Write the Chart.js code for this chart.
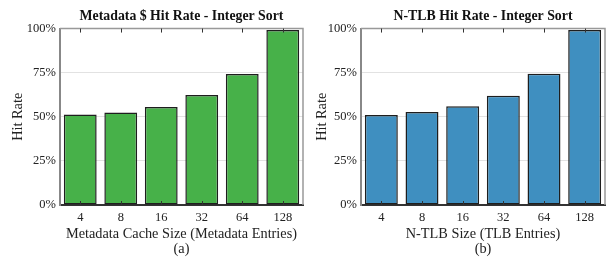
<!DOCTYPE html>
<html>
<head>
<meta charset="utf-8">
<script src="https://cdn.jsdelivr.net/npm/chart.js@4"></script>
<style>
  html, body { margin: 0; padding: 0; background: #fff; }
  #wrap { width: 608px; height: 259px; display: flex; }
  canvas { display: block; }
</style>
</head>
<body>
<div id="wrap">
  <canvas id="chartA" width="304" height="259"></canvas>
  <canvas id="chartB" width="304" height="259"></canvas>
</div>
<script>
// ---- Datos ----
const categories = ['4', '8', '16', '32', '64', '128'];
const metadataHitRate = [51.3, 52.4, 55.6, 62.3, 74.3, 99.2];
const ntlbHitRate = [51.0, 52.7, 56.0, 61.9, 74.4, 99.2];
const yTicks = [0, 25, 50, 75, 100];

const SERIF = '"Liberation Serif", "Times New Roman", serif';

// marco + ticks hacia dentro
const framePlugin = {
  id: 'frame',
  afterDatasetsDraw(chart) {
    const { ctx, chartArea: a, scales: { x } } = chart;
    ctx.save();
    ctx.strokeStyle = '#999';
    ctx.lineWidth = 1.5;
    ctx.beginPath();
    ctx.moveTo(a.left, a.top); ctx.lineTo(a.right, a.top);
    ctx.lineTo(a.right, a.bottom);
    ctx.stroke();
    ctx.strokeStyle = '#333';
    ctx.lineWidth = 1;
    categories.forEach((c, i) => {
      const px = Math.round(x.getPixelForTick(i)) + 0.5;
      ctx.beginPath();
      ctx.moveTo(px, a.top); ctx.lineTo(px, a.top + 4);
      ctx.moveTo(px, a.bottom); ctx.lineTo(px, a.bottom - 4);
      ctx.stroke();
    });
    ctx.restore();
  }
};

function makeChart(id, title, xTitle, sub, values, color, leftW, padRight) {
  return new Chart(document.getElementById(id), {
    type: 'bar',
    data: {
      labels: categories,
      datasets: [{
        data: values,
        backgroundColor: color,
        borderColor: '#1e1e1e',
        borderWidth: 1.5,
        borderSkipped: false,
        categoryPercentage: 1,
        barPercentage: 0.81
      }]
    },
    options: {
      responsive: false,
      animation: false,
      layout: { padding: { left: 10, right: padRight, top: 0, bottom: 0 } },
      plugins: {
        legend: { display: false },
        tooltip: { enabled: false },
        title: {
          display: true,
          text: title,
          fullSize: false,
          color: '#111',
          font: { family: SERIF, size: 13.8, weight: 'bold' },
          padding: { top: 8, bottom: 4 }
        }
      },
      scales: {
        x: {
          grid: { display: false, drawTicks: false },
          border: { color: '#333', width: 2 },
          ticks: { color: '#222', font: { family: SERIF, size: 12.5 }, padding: 5 },
          title: {
            display: true,
            text: [xTitle, sub],
            color: '#222',
            font: { family: SERIF, size: 14.3, lineHeight: 1.05 },
            padding: { top: 0, bottom: 2 }
          },
          afterFit: (s) => { s.height = 54; }
        },
        y: {
          min: 0, max: 100,
          afterBuildTicks: (s) => { s.ticks = yTicks.map(v => ({ value: v })); },
          grid: { color: '#e2e2e2', lineWidth: 1, drawTicks: false },
          border: { color: '#888', width: 2 },
          ticks: {
            color: '#222',
            font: { family: SERIF, size: 12.5 },
            padding: 4,
            callback: (v) => v + '%'
          },
          title: {
            display: true,
            text: 'Hit Rate',
            color: '#222',
            font: { family: SERIF, size: 14.3 },
            padding: { top: 0, bottom: 2 }
          },
          afterFit: (s) => { s.width = leftW; }
        }
      }
    },
    plugins: [framePlugin]
  });
}

makeChart('chartA', 'Metadata $ Hit Rate - Integer Sort',
  'Metadata Cache Size (Metadata Entries)', '(a)',
  metadataHitRate, '#47b149', 50, 1);
makeChart('chartB', 'N-TLB Hit Rate - Integer Sort',
  'N-TLB Size (TLB Entries)', '(b)',
  ntlbHitRate, '#3f8fc0', 47, 3);
</script>
</body>
</html>
